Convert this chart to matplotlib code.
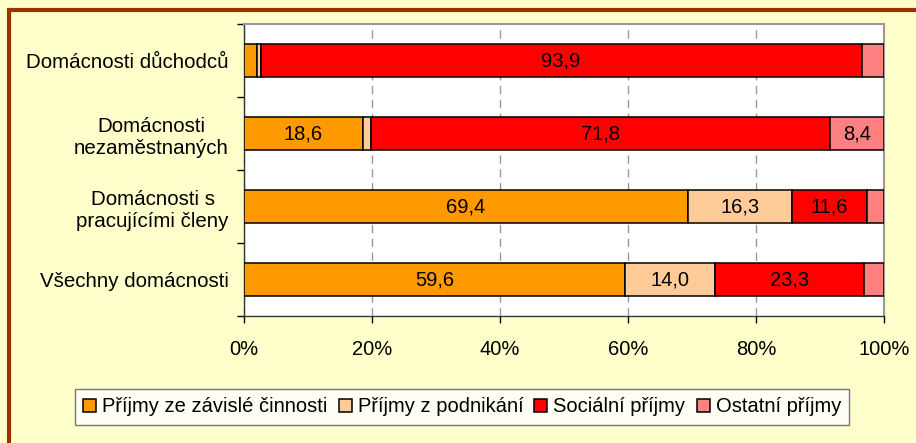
import numpy as np
import matplotlib.pyplot as plt
from matplotlib.patches import Rectangle

# category labels (top to bottom) and income shares in %
categories = ["Domácnosti důchodců", "Domácnosti\nnezaměstnaných",
              "Domácnosti s\npracujícími členy", "Všechny domácnosti"]
series_names = ["Příjmy ze závislé činnosti", "Příjmy z podnikání",
                "Sociální příjmy", "Ostatní příjmy"]
zavisla = [2.1, 18.6, 69.4, 59.6]
podnikani = [0.5, 1.2, 16.3, 14.0]
socialni = [93.9, 71.8, 11.6, 23.3]
ostatni = [3.5, 8.4, 2.7, 3.1]
colors = ["#FF9900", "#FFCC99", "#FF0000", "#FF8080"]

plt.rcParams['font.family'] = ['Liberation Sans', 'DejaVu Sans']

fig = plt.figure(figsize=(9.16, 4.43), dpi=100)
fig.patch.set_facecolor("#FFFFCC")
# dark frame, cut off at right and bottom like the original
fig.patches.append(Rectangle((9 / 916, -0.1), 1.2, 1 - 10 / 443 + 0.1,
                             transform=fig.transFigure, fill=False,
                             edgecolor="#993300", linewidth=3, zorder=0))

ax = fig.add_axes([244 / 916, 1 - 316 / 443, 640 / 916, 292 / 443])
ax.set_facecolor("white")

y = np.arange(len(categories))
left = np.zeros(len(categories))
data = [zavisla, podnikani, socialni, ostatni]
for vals, name, col in zip(data, series_names, colors):
    vals = np.array(vals)
    ax.barh(y, vals, left=left, height=0.44, color=col, edgecolor="black",
            linewidth=1.1, label=name, zorder=3)
    for yi, v, l in zip(y, vals, left):
        if v >= 5:
            ax.text(l + v / 2, yi, f"{v:.1f}".replace(".", ","), ha="center",
                    va="center", fontsize=14.5, zorder=4)
    left += vals

ax.set_xlim(0, 100)
ax.set_ylim(len(categories) - 0.5, -0.5)
ax.set_xticks(np.arange(0, 101, 20))
ax.set_xticklabels([f"{v}%" for v in range(0, 101, 20)], fontsize=14.5)
ax.set_yticks(y)
ax.set_yticklabels(categories, fontsize=14.8, multialignment="center")
ax.set_yticks(np.arange(-0.5, len(categories), 1), minor=True)
ax.tick_params(axis="y", which="major", length=0, pad=11)
ax.tick_params(axis="y", which="minor", length=5, width=1, direction="out")
ax.tick_params(axis="x", length=5, width=1, direction="out", pad=12)

ax.grid(axis="x", color="#999999", linestyle=(0, (6, 4)), linewidth=1, zorder=1)
for s in ["top", "right"]:
    ax.spines[s].set_color("#999999")
    ax.spines[s].set_linewidth(1.5)
for s in ["left", "bottom"]:
    ax.spines[s].set_color("#333333")
    ax.spines[s].set_linewidth(1)

leg = fig.legend(loc="center", bbox_to_anchor=(462 / 916, 1 - 407 / 443), ncol=4,
                 frameon=True, fancybox=False, edgecolor="#555555",
                 handlelength=0.65, handleheight=0.65, handletextpad=0.3,
                 columnspacing=0.55, borderpad=0.4,
                 prop={"size": 14.5})
leg.get_frame().set_linewidth(1)

fig.savefig("out.png", dpi=100, facecolor=fig.get_facecolor())
